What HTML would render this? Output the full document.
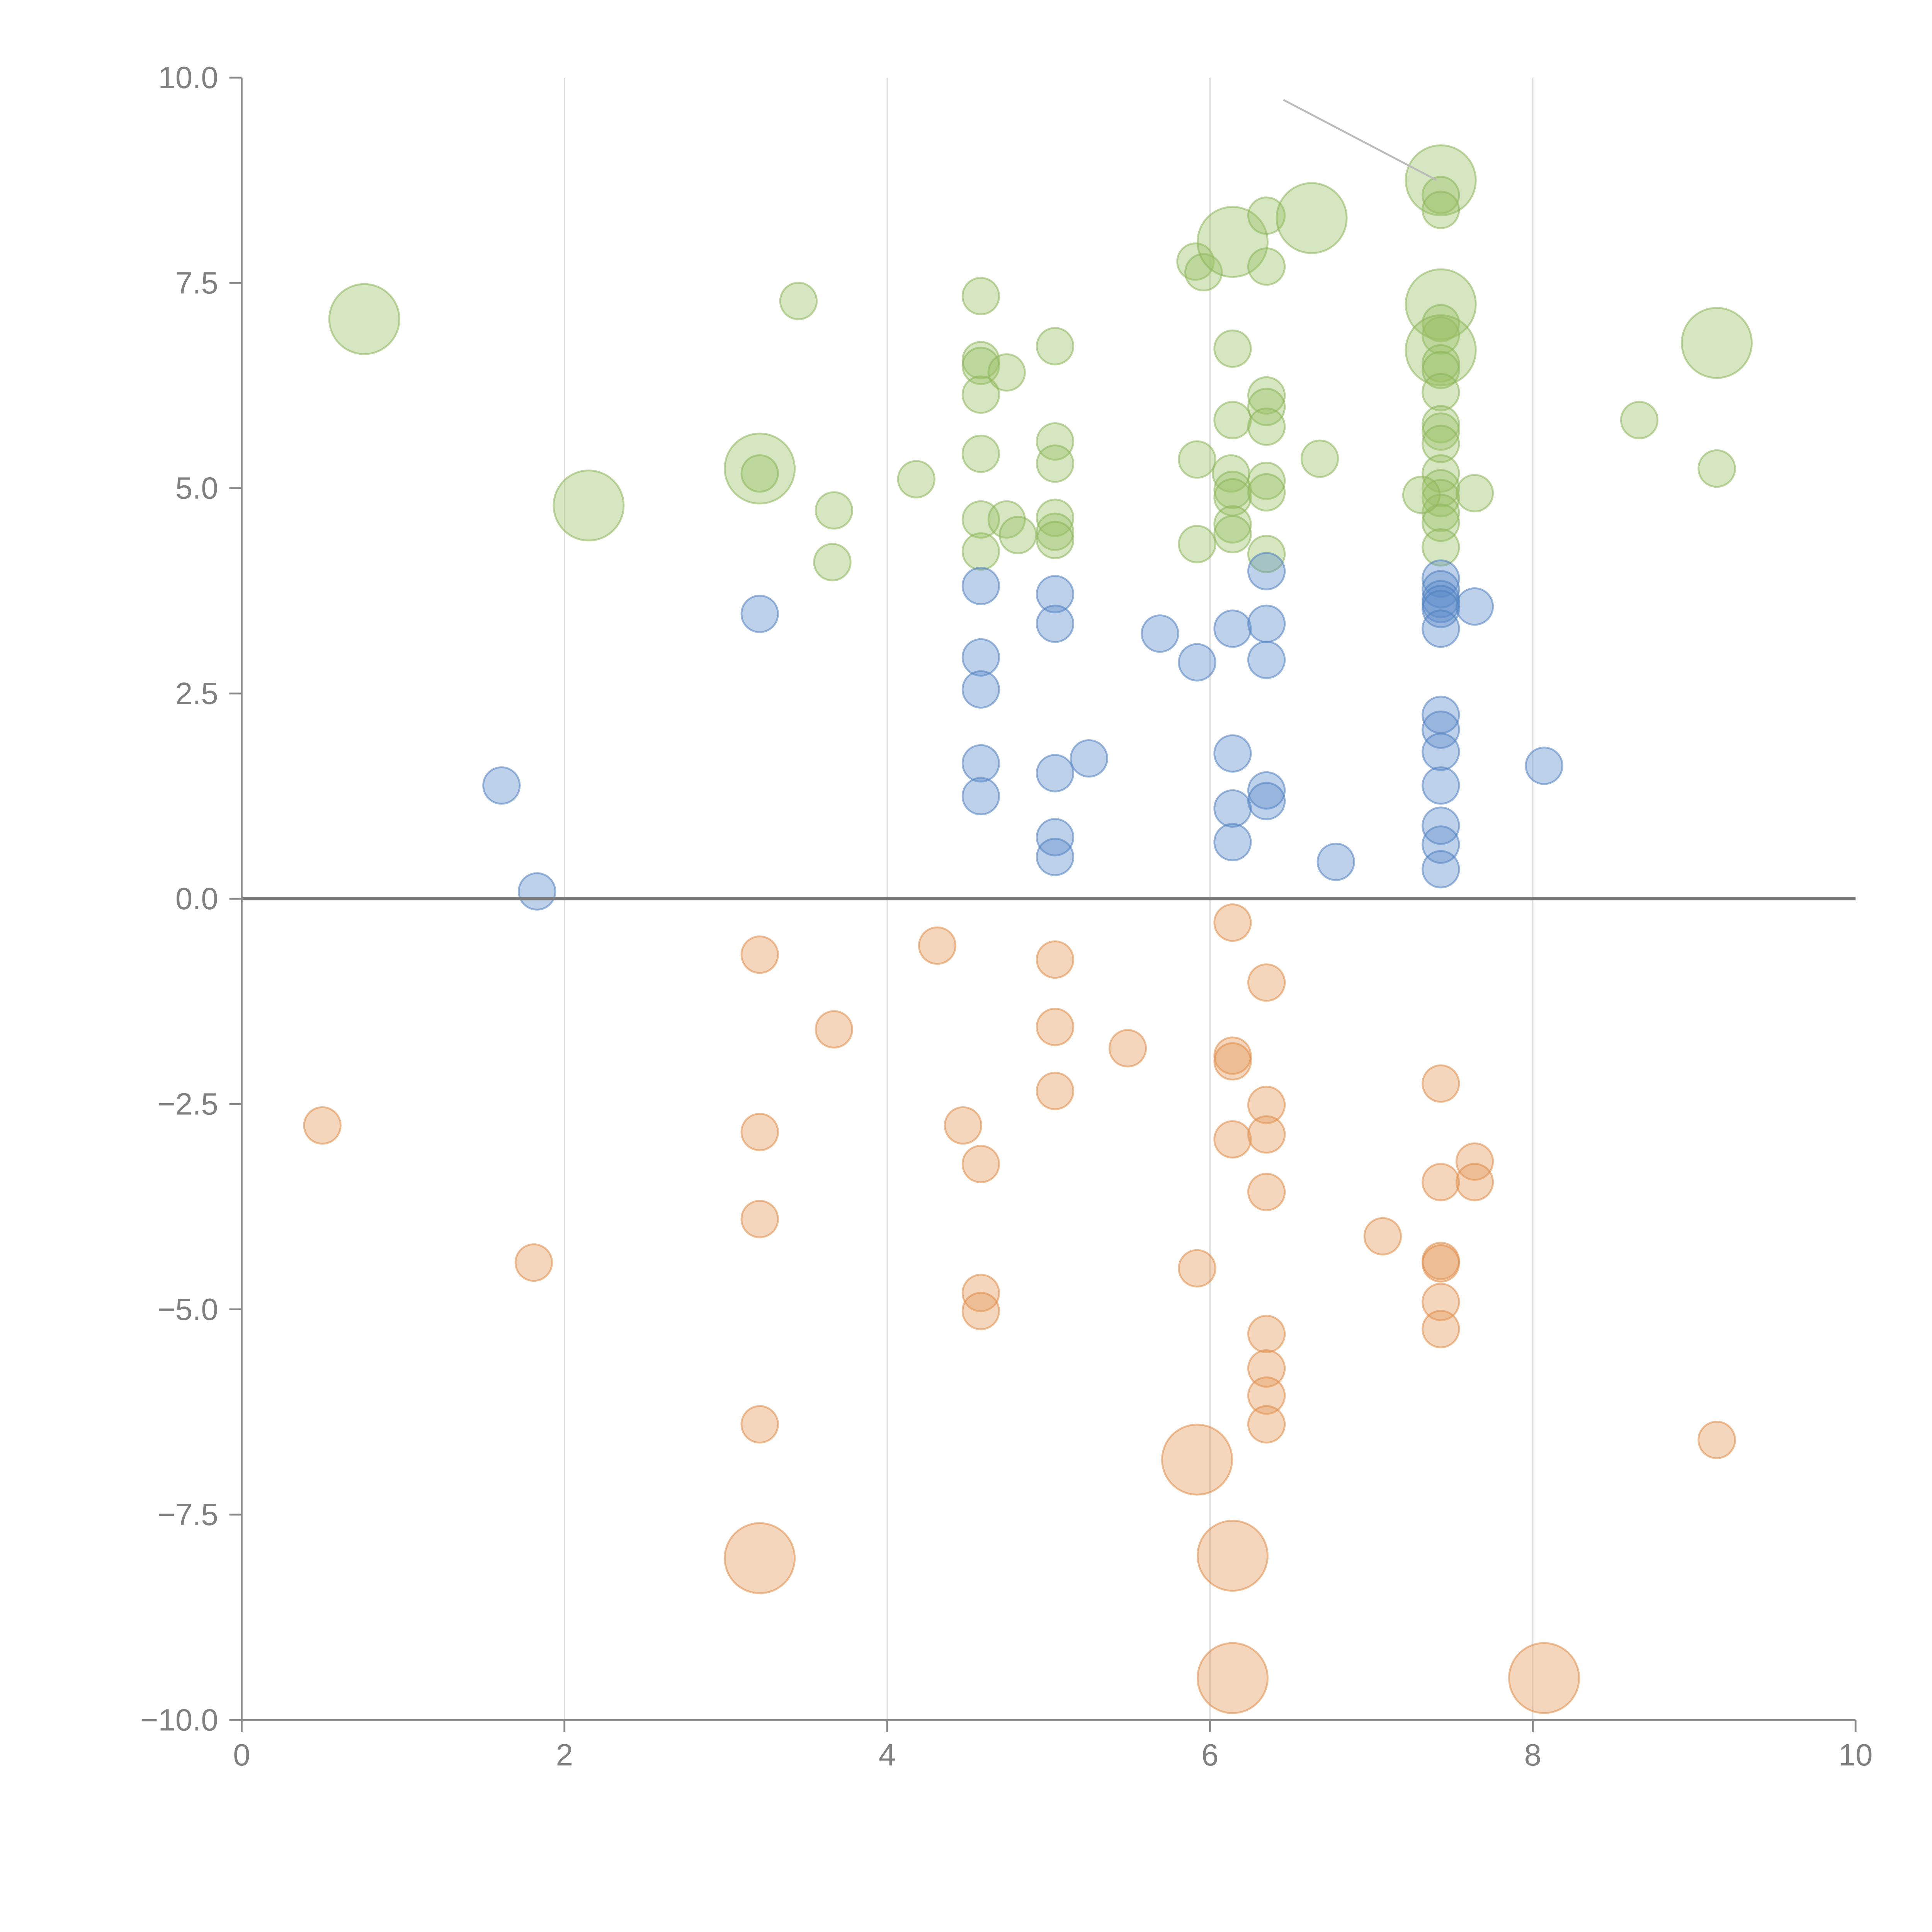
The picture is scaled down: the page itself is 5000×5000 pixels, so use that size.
<!DOCTYPE html>
<html><head><meta charset="utf-8"><style>
html,body{margin:0;padding:0;background:#fff;}
svg{display:block;}
</style></head><body>
<svg id="chart" xmlns="http://www.w3.org/2000/svg" width="5000" height="5000" viewBox="0 0 1567 1567" font-family="'Liberation Sans', sans-serif">
<g id="grid"></g>
<g id="marks"></g>
<g id="axes"></g>
<line x1="1041" y1="81" x2="1165" y2="146" stroke="#bbb" stroke-width="1.5"/>
</svg>
<script>
const xTicks = [0, 2, 4, 6, 8, 10];
const yTicks = [10, 7.5, 5, 2.5, 0, -2.5, -5, -7.5, -10];
const yTickLabels = ["10.0", "7.5", "5.0", "2.5", "0.0", "\u22122.5", "\u22125.0", "\u22127.5", "\u221210.0"];

const greenX = [0.76,3.45,2.15,3.21,3.21,3.67,3.66,4.18,4.58,4.58,4.58,4.74,4.58,4.58,4.58,4.58,4.74,4.81,5.04,5.04,5.04,5.04,5.04,5.04,5.91,5.96,6.14,6.35,6.63,6.35,6.14,6.35,6.35,6.14,6.35,5.92,6.13,6.14,6.14,6.35,6.35,6.14,6.14,5.92,6.35,6.68,7.43,7.43,7.43,7.43,7.43,7.43,7.43,7.43,7.43,7.43,7.43,7.43,7.43,7.43,7.43,7.43,7.43,7.43,7.43,7.31,7.64,8.66,9.14,9.14];
const greenY = [7.06,7.28,4.79,5.24,5.18,4.73,4.10,5.11,7.34,6.56,6.49,6.41,6.14,5.42,4.62,4.23,4.62,4.43,6.73,5.57,5.30,4.64,4.47,4.37,7.76,7.63,8.00,8.32,8.29,7.70,6.70,6.13,5.99,5.83,5.75,5.35,5.18,4.98,4.89,5.09,4.95,4.56,4.44,4.32,4.20,5.36,8.75,8.57,8.39,7.24,7.01,6.86,6.68,6.52,6.44,6.17,5.78,5.69,5.54,5.18,5.00,4.88,4.70,4.58,4.28,4.92,4.94,5.83,6.77,5.24];
const greenS = [4,1,4,4,1,1,1,1,1,1,1,1,1,1,1,1,1,1,1,1,1,1,1,1,1,1,4,1,4,1,1,1,1,1,1,1,1,1,1,1,1,1,1,1,1,1,4,1,1,4,1,1,4,1,1,1,1,1,1,1,1,1,1,1,1,1,1,1,4,1];

const blueX = [1.61,1.83,3.21,4.58,4.58,4.58,4.58,4.58,5.04,5.04,5.04,5.25,5.04,5.04,5.69,5.92,6.14,6.35,6.35,6.35,6.14,6.35,6.35,6.14,6.14,6.78,7.43,7.43,7.43,7.43,7.43,7.43,7.43,7.43,7.43,7.43,7.43,7.43,7.43,7.64,8.07];
const blueY = [1.38,0.09,3.47,3.81,2.94,2.55,1.65,1.25,3.71,3.35,1.53,1.71,0.75,0.51,3.23,2.88,3.29,3.99,3.35,2.91,1.77,1.32,1.19,1.10,0.69,0.45,3.90,3.77,3.65,3.59,3.53,3.29,2.24,2.06,1.79,1.38,0.89,0.66,0.36,3.56,1.62];
const blueS = blueX.map(() => 1);

const orangeX = [0.50,1.81,3.21,3.21,3.21,3.21,3.21,3.67,4.31,4.47,4.58,4.58,4.58,5.04,5.04,5.04,5.49,5.92,5.92,6.14,6.14,6.14,6.14,6.14,6.14,6.35,6.35,6.35,6.35,6.35,6.35,6.35,6.35,7.07,7.43,7.43,7.43,7.43,7.43,7.43,7.64,7.64,8.07,9.14];
const orangeY = [-2.76,-4.43,-0.68,-2.84,-3.90,-6.40,-8.03,-1.59,-0.57,-2.76,-3.23,-4.80,-5.02,-0.74,-1.56,-2.34,-1.82,-4.50,-6.83,-0.29,-1.91,-1.98,-2.93,-8.00,-9.49,-1.02,-2.51,-2.87,-3.57,-5.30,-5.72,-6.05,-6.40,-4.11,-2.25,-3.45,-4.41,-4.44,-4.91,-5.24,-3.20,-3.45,-9.49,-6.59];
const orangeS = [1,1,1,1,1,1,4,1,1,1,1,1,1,1,1,1,1,1,4,1,1,1,1,4,4,1,1,1,1,1,1,1,1,1,1,1,1,1,1,1,1,1,4,1];

const NS = "http://www.w3.org/2000/svg";
const X0 = 196, X1 = 1505, YT = 63, YB = 1395;
const sx = v => X0 + (v - 0) / 10 * (X1 - X0);
const sy = v => YB - (v + 10) / 20 * (YB - YT);
const sr = s => 14.8 * Math.pow(s, 0.47);

function mk(tag, attrs, parent) {
  const e = document.createElementNS(NS, tag);
  for (const k in attrs) e.setAttribute(k, attrs[k]);
  parent.appendChild(e);
  return e;
}
const grid = document.getElementById('grid');
const marks = document.getElementById('marks');
const axes = document.getElementById('axes');

xTicks.forEach(t => {
  if (t > 0 && t < 10) {
    const g = mk('line', {x1: sx(t), x2: sx(t), y1: YT, y2: YB, stroke: '#ddd', 'stroke-width': 1}, grid);
    
    
  }
});

function series(xs, ys, ss, fill, stroke, name) {
  xs.forEach((x, i) => {
    const c = mk('circle', {cx: sx(x), cy: sy(ys[i]), r: sr(ss[i]), fill: fill, 'fill-opacity': 0.4, stroke: stroke, 'stroke-opacity': 0.55, 'stroke-width': 1.5}, marks);
    
    
  });
}
series(greenX, greenY, greenS, '#98c064', '#8cb55a', 'green-bubble');
series(blueX, blueY, blueS, '#5d8cca', '#4f7fc0', 'blue-bubble');
series(orangeX, orangeY, orangeS, '#e3995a', '#e08c47', 'orange-bubble');

const zl = mk('line', {x1: X0, x2: X1, y1: sy(0), y2: sy(0), stroke: '#777', 'stroke-width': 2.5}, axes);


const ya = mk('line', {x1: X0, x2: X0, y1: YT, y2: YB, stroke: '#888', 'stroke-width': 1.5}, axes);


const xa = mk('line', {x1: X0, x2: X1, y1: YB, y2: YB, stroke: '#888', 'stroke-width': 1.5}, axes);



yTicks.forEach((t, i) => {
  const tk = mk('line', {x1: X0 - 10, x2: X0, y1: sy(t), y2: sy(t), stroke: '#888', 'stroke-width': 1.5}, axes);
  
  
  const tx = mk('text', {x: X0 - 19, y: sy(t) + 8.5, 'text-anchor': 'end', 'font-size': 25, fill: '#808080'}, axes);
  tx.textContent = yTickLabels[i];
  
  
});
xTicks.forEach(t => {
  const tk = mk('line', {x1: sx(t), x2: sx(t), y1: YB, y2: YB + 10, stroke: '#888', 'stroke-width': 1.5}, axes);
  
  
  const tx = mk('text', {x: sx(t), y: YB + 37, 'text-anchor': 'middle', 'font-size': 25, fill: '#808080'}, axes);
  tx.textContent = String(t);
  
  
});
</script>
</body></html>
